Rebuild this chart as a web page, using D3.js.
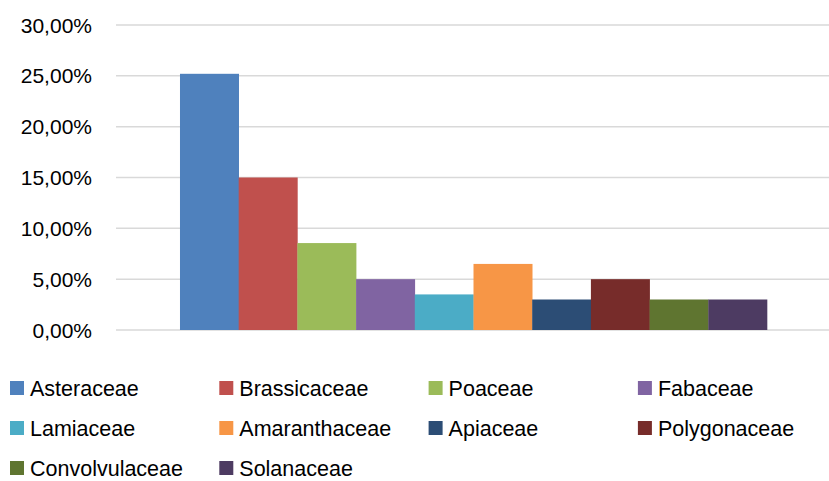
<!DOCTYPE html>
<html><head><meta charset="utf-8">
<script src="https://cdn.jsdelivr.net/npm/d3@7"></script>
<style>body{margin:0;background:#fff}svg{display:block}text{font-family:"Liberation Sans",Arial,sans-serif;fill:#000}</style>
</head><body>
<svg id="c" width="829" height="481"></svg>
<script>
const families = ["Asteraceae","Brassicaceae","Poaceae","Fabaceae","Lamiaceae","Amaranthaceae","Apiaceae","Polygonaceae","Convolvulaceae","Solanaceae"];
const shares = [0.252,0.150,0.0855,0.050,0.035,0.065,0.030,0.050,0.030,0.030];
const colors = ["#4F81BD","#C0504D","#9BBB59","#8064A2","#4BACC6","#F79646","#2C4D75","#772C2A","#5F7530","#4D3B62"];
const yTicks = [0,0.05,0.10,0.15,0.20,0.25,0.30];

const svg = d3.select("#c");
const plotLeft = 116, plotRight = 831;
const y = d3.scaleLinear().domain([0,0.30]).range([330,25]);
const outer = d3.scaleBand().domain(["all"]).range([plotLeft,plotRight]).paddingInner(0).paddingOuter(0.109);
const x = d3.scaleBand().domain(families).range([outer("all"), outer("all")+outer.bandwidth()]);

const fmt = v => (v*100).toFixed(2).replace(".", ",") + "%";

svg.append("g").selectAll("line").data(yTicks).join("line")
  .attr("x1",plotLeft).attr("x2",plotRight)
  .attr("y1",d=>y(d)).attr("y2",d=>y(d))
  .attr("stroke","#d9d9d9").attr("stroke-width",1.5);

svg.append("g").selectAll("text").data(yTicks).join("text")
  .attr("x",92).attr("y",d=>y(d)).attr("dy","0.36em")
  .attr("text-anchor","end").attr("font-size",21)
  .text(fmt);

svg.append("g").selectAll("rect").data(families).join("rect")
  .attr("x",d=>x(d)).attr("width",x.bandwidth()+0.3)
  .attr("y",(d,i)=>y(shares[i])).attr("height",(d,i)=>y(0)-y(shares[i]))
  .attr("fill",(d,i)=>colors[i]);

const leg = svg.append("g").selectAll("g").data(families).join("g")
  .attr("transform",(d,i)=>`translate(${10+(i%4)*209.3},${388+Math.floor(i/4)*40})`);
leg.append("rect").attr("x",0).attr("y",-7).attr("width",14).attr("height",14)
  .attr("fill",(d,i)=>colors[i]);
leg.append("text").attr("x",20).attr("y",0).attr("dy","0.36em").attr("font-size",21.5).text(d=>d);
</script>
</body></html>
